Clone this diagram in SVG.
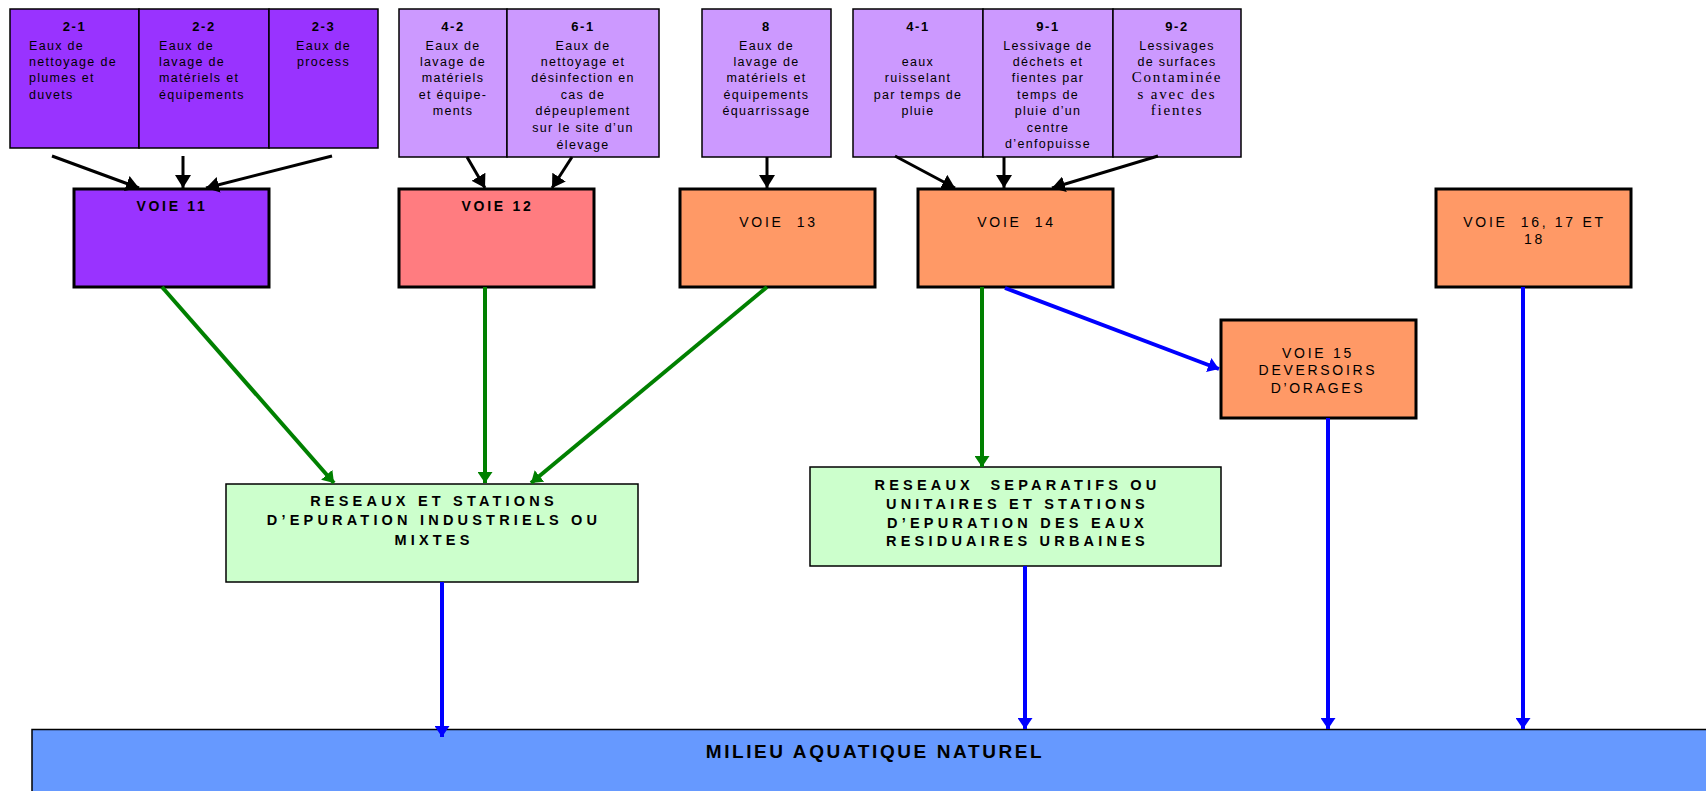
<svg xmlns="http://www.w3.org/2000/svg" width="1706" height="791" viewBox="0 0 1706 791">
<defs>
<style>
.t{font-family:"Liberation Sans",Arial,sans-serif;font-size:12.5px;letter-spacing:1.3px;fill:#000}
.h{font-weight:bold;font-size:13px;letter-spacing:1.6px}
.sf{font-family:"Liberation Serif","Times New Roman",serif;font-size:15px;letter-spacing:1.8px}
.c{text-anchor:middle}
.voie{font-size:14px;letter-spacing:2.7px}
.vb{font-weight:bold}
.g{font-weight:bold;font-size:14.5px;letter-spacing:4.2px}
.m{font-weight:bold;font-size:19px;letter-spacing:2.6px}
.src{stroke:#000;stroke-width:1.5}
.dk{fill:#9933FF}
.lt{fill:#CC99FF}
.vx{stroke:#000;stroke-width:3}
.gr{fill:#CCFFCC;stroke:#000;stroke-width:1.5}
.ab{stroke:#000;stroke-width:3;fill:none;marker-end:url(#mk)}
.ag{stroke:#008000;stroke-width:4;fill:none;marker-end:url(#mg)}
.au{stroke:#0000FF;stroke-width:4;fill:none;marker-end:url(#mu)}
</style>
<marker id="mk" markerUnits="userSpaceOnUse" viewBox="0 0 13 16" refX="13" refY="8" markerWidth="13" markerHeight="16" orient="auto"><path d="M0,0 L13,8 L0,16 z" fill="#000"/></marker>
<marker id="mg" markerUnits="userSpaceOnUse" viewBox="0 0 11 15" refX="11" refY="7.5" markerWidth="11" markerHeight="15" orient="auto"><path d="M0,0 L11,7.5 L0,15 z" fill="#008000"/></marker>
<marker id="mu" markerUnits="userSpaceOnUse" viewBox="0 0 11 15" refX="11" refY="7.5" markerWidth="11" markerHeight="15" orient="auto"><path d="M0,0 L11,7.5 L0,15 z" fill="#0000FF"/></marker>
</defs>
<rect width="1706" height="791" fill="#fff"/>

<g id="n2-1">
<rect x="10" y="9" width="129" height="139" class="src dk"/>
<text class="t h c" x="74.5" y="31">2-1</text>
<text class="t" x="29" y="49.5">Eaux de</text>
<text class="t" x="29" y="65.9">nettoyage de</text>
<text class="t" x="29" y="82.3">plumes et</text>
<text class="t" x="29" y="98.7">duvets</text>
</g>
<g id="n2-2">
<rect x="139" y="9" width="130" height="139" class="src dk"/>
<text class="t h c" x="204" y="31">2-2</text>
<text class="t" x="159" y="49.5">Eaux de</text>
<text class="t" x="159" y="65.9">lavage de</text>
<text class="t" x="159" y="82.3">matériels et</text>
<text class="t" x="159" y="98.7">équipements</text>
</g>
<g id="n2-3">
<rect x="269" y="9" width="109" height="139" class="src dk"/>
<text class="t h c" x="323.5" y="31">2-3</text>
<text class="t c" x="323.5" y="49.5">Eaux de</text>
<text class="t c" x="323.5" y="65.9">process</text>
</g>

<g id="n4-2">
<rect x="399" y="9" width="108" height="148" class="src lt"/>
<text class="t h c" x="453" y="31">4-2</text>
<text class="t c" x="453" y="49.5">Eaux de</text>
<text class="t c" x="453" y="65.9">lavage de</text>
<text class="t c" x="453" y="82.3">matériels</text>
<text class="t c" x="453" y="98.7">et équipe-</text>
<text class="t c" x="453" y="115.1">ments</text>
</g>
<g id="n6-1">
<rect x="507" y="9" width="152" height="148" class="src lt"/>
<text class="t h c" x="583" y="31">6-1</text>
<text class="t c" x="583" y="49.5">Eaux de</text>
<text class="t c" x="583" y="65.9">nettoyage et</text>
<text class="t c" x="583" y="82.3">désinfection en</text>
<text class="t c" x="583" y="98.7">cas de</text>
<text class="t c" x="583" y="115.1">dépeuplement</text>
<text class="t c" x="583" y="131.5">sur le site d’un</text>
<text class="t c" x="583" y="148.5">élevage</text>
</g>

<g id="n8">
<rect x="702" y="9" width="129" height="148" class="src lt"/>
<text class="t h c" x="766.5" y="31">8</text>
<text class="t c" x="766.5" y="49.5">Eaux de</text>
<text class="t c" x="766.5" y="65.9">lavage de</text>
<text class="t c" x="766.5" y="82.3">matériels et</text>
<text class="t c" x="766.5" y="98.7">équipements</text>
<text class="t c" x="766.5" y="115.1">équarrissage</text>
</g>

<g id="n4-1">
<rect x="853" y="9" width="130" height="148" class="src lt"/>
<text class="t h c" x="918" y="31">4-1</text>
<text class="t c" x="918" y="65.9">eaux</text>
<text class="t c" x="918" y="82.3">ruisselant</text>
<text class="t c" x="918" y="98.7">par temps de</text>
<text class="t c" x="918" y="115.1">pluie</text>
</g>
<g id="n9-1">
<rect x="983" y="9" width="130" height="148" class="src lt"/>
<text class="t h c" x="1048" y="31">9-1</text>
<text class="t c" x="1048" y="49.5">Lessivage de</text>
<text class="t c" x="1048" y="65.9">déchets et</text>
<text class="t c" x="1048" y="82.3">fientes par</text>
<text class="t c" x="1048" y="98.7">temps de</text>
<text class="t c" x="1048" y="115.1">pluie d’un</text>
<text class="t c" x="1048" y="131.5">centre</text>
<text class="t c" x="1048" y="147.9">d’enfopuisse</text>
</g>
<g id="n9-2">
<rect x="1113" y="9" width="128" height="148" class="src lt"/>
<text class="t h c" x="1177" y="31">9-2</text>
<text class="t c" x="1177" y="49.5">Lessivages</text>
<text class="t c" x="1177" y="65.9">de surfaces</text>
<text class="t sf c" x="1177" y="82.3">Contaminée</text>
<text class="t sf c" x="1177" y="98.7">s avec des</text>
<text class="t sf c" x="1177" y="115.1">fientes</text>
</g>

<g id="voie11">
<rect x="74" y="189" width="195" height="98" class="vx" fill="#9933FF"/>
<text class="t voie vb c" x="172" y="211">VOIE 11</text>
</g>
<g id="voie12">
<rect x="399" y="189" width="195" height="98" class="vx" fill="#FF7C80"/>
<text class="t voie vb c" x="497.5" y="211">VOIE 12</text>
</g>
<g id="voie13">
<rect x="680" y="189" width="195" height="98" class="vx" fill="#FF9966"/>
<text class="t voie c" x="778.5" y="227" xml:space="preserve">VOIE  13</text>
</g>
<g id="voie14">
<rect x="918" y="189" width="195" height="98" class="vx" fill="#FF9966"/>
<text class="t voie c" x="1016.5" y="227" xml:space="preserve">VOIE  14</text>
</g>
<g id="voie16">
<rect x="1436" y="189" width="195" height="98" class="vx" fill="#FF9966"/>
<text class="t voie c" x="1534.5" y="227" xml:space="preserve">VOIE  16, 17 ET</text>
<text class="t voie c" x="1534.5" y="244">18</text>
</g>
<g id="voie15">
<rect x="1221" y="320" width="195" height="98" class="vx" fill="#FF9966"/>
<text class="t voie c" x="1318" y="357.5">VOIE 15</text>
<text class="t voie c" x="1318" y="375">DEVERSOIRS</text>
<text class="t voie c" x="1318" y="392.5">D’ORAGES</text>
</g>

<g id="reseaux-industriels">
<rect x="226" y="484" width="412" height="98" class="gr"/>
<text class="t g c" x="434" y="505.5">RESEAUX ET STATIONS</text>
<text class="t g c" x="434" y="525.2">D’EPURATION INDUSTRIELS OU</text>
<text class="t g c" x="434" y="544.9">MIXTES</text>
</g>
<g id="reseaux-urbains">
<rect x="810" y="467" width="411" height="99" class="gr"/>
<text class="t g c" x="1017.5" y="490" xml:space="preserve">RESEAUX  SEPARATIFS OU</text>
<text class="t g c" x="1017.5" y="508.8">UNITAIRES ET STATIONS</text>
<text class="t g c" x="1017.5" y="527.6">D’EPURATION DES EAUX</text>
<text class="t g c" x="1017.5" y="546.4">RESIDUAIRES URBAINES</text>
</g>

<g id="milieu">
<rect x="32" y="729.5" width="1690" height="80" fill="#6699FF" stroke="#000" stroke-width="1.5"/>
<text class="t m c" x="875" y="757.5">MILIEU AQUATIQUE NATUREL</text>
</g>

<g id="connectors">
<path class="ab" d="M52,156 L139,188"/>
<path class="ab" d="M183,156 L183,188"/>
<path class="ab" d="M332,156 L206,188"/>
<path class="ab" d="M467,157 L485,188"/>
<path class="ab" d="M572,157 L552,188"/>
<path class="ab" d="M767,157 L767,188"/>
<path class="ab" d="M895,156 L955,188"/>
<path class="ab" d="M1004,157 L1004,188"/>
<path class="ab" d="M1158,156 L1052,188"/>
<path class="ag" d="M162,287 L334,483"/>
<path class="ag" d="M485,287 L485,483"/>
<path class="ag" d="M767,287 L531,483"/>
<path class="ag" d="M982,287 L982,467"/>
<path class="au" d="M1005,288 L1219,369"/>
<path class="au" d="M442,582 L442,737"/>
<path class="au" d="M1025,566 L1025,729"/>
<path class="au" d="M1328,418 L1328,729"/>
<path class="au" d="M1523,287 L1523,729"/>
</g>
</svg>
